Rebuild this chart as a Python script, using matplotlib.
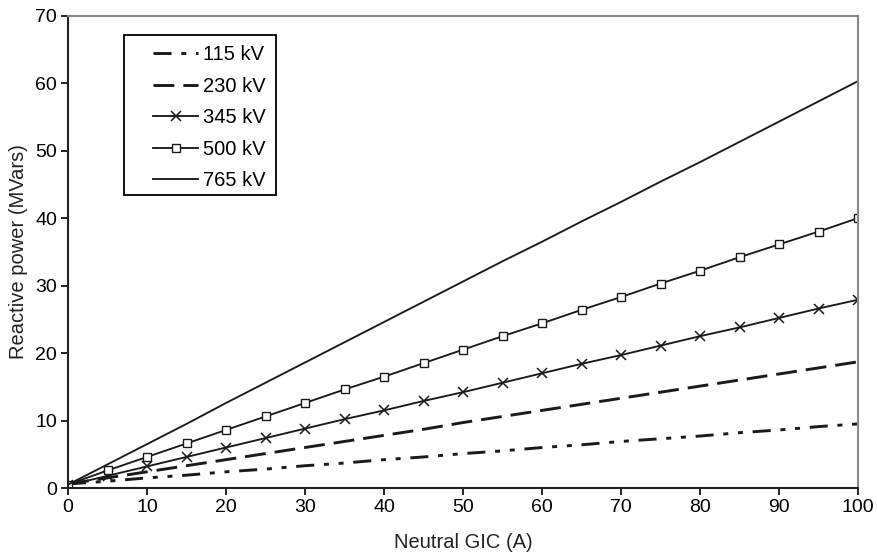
import matplotlib
matplotlib.use("Agg")
import matplotlib.pyplot as plt
from matplotlib.patches import Rectangle

plt.rcParams['font.family'] = ['Liberation Sans', 'DejaVu Sans']
plt.rcParams['lines.scale_dashes'] = False

x = [0, 5, 10, 15, 20, 25, 30, 35, 40, 45, 50, 55, 60, 65, 70, 75, 80, 85, 90, 95, 100]
kv115 = [0.6, 1.0, 1.5, 1.9, 2.4, 2.8, 3.3, 3.7, 4.2, 4.6, 5.1, 5.5, 6.0, 6.4, 6.9, 7.3, 7.7, 8.2, 8.6, 9.1, 9.5]
kv230 = [0.6, 1.5, 2.4, 3.3, 4.2, 5.1, 6.0, 6.9, 7.8, 8.7, 9.7, 10.6, 11.5, 12.4, 13.3, 14.2, 15.1, 16.0, 16.9, 17.8, 18.7]
kv345 = [0.4, 1.8, 3.2, 4.6, 6.0, 7.4, 8.8, 10.2, 11.5, 12.9, 14.2, 15.6, 17.0, 18.4, 19.7, 21.1, 22.5, 23.8, 25.2, 26.6, 27.9]
kv500 = [0.5, 2.6, 4.6, 6.6, 8.6, 10.6, 12.6, 14.6, 16.5, 18.5, 20.5, 22.5, 24.4, 26.4, 28.3, 30.3, 32.2, 34.2, 36.1, 38.0, 40.0]
kv765 = [0.5, 3.5, 6.5, 9.5, 12.6, 15.6, 18.6, 21.6, 24.6, 27.6, 30.6, 33.6, 36.5, 39.5, 42.4, 45.4, 48.3, 51.3, 54.3, 57.3, 60.3]
labels = ['115 kV', '230 kV', '345 kV', '500 kV', '765 kV']

fig = plt.figure(figsize=(8.78, 5.56), dpi=100)
ax = fig.add_axes([0.07745, 0.1223, 0.8998, 0.8495])

c = '#1a1a1a'
ax.plot(x, kv115, color=c, lw=2.1, dashes=(13, 7, 3.6, 7, 3.6, 7), label=labels[0])
ax.plot(x, kv230, color=c, lw=2.1, dashes=(15, 6.5), label=labels[1])
ax.plot(x, kv345, color=c, lw=1.35, marker='x', ms=7, mew=1.1, label=labels[2])
ax.plot(x, kv500, color=c, lw=1.35, marker='s', ms=6, mfc='white', mec=c, mew=1.0, label=labels[3])
ax.plot(x, kv765, color=c, lw=1.35, label=labels[4])

ax.set_xlim(0, 100)
ax.set_ylim(0, 70)
ax.set_xticks(range(0, 101, 10))
ax.set_yticks(range(0, 71, 10))
ax.tick_params(direction='out', length=5, width=1.2, labelsize=14, colors='black', pad=3)
ax.set_xlabel('Neutral GIC (A)', fontsize=14.5, labelpad=12, color='#222222')
ax.set_ylabel('Reactive power (MVars)', fontsize=14.5, labelpad=5, color='#222222')

for s in ['left', 'bottom']:
    ax.spines[s].set_color('#222222')
    ax.spines[s].set_linewidth(1.5)
for s in ['top', 'right']:
    ax.spines[s].set_color('#888888')
    ax.spines[s].set_linewidth(1.5)

ax.add_patch(Rectangle((0.0709, 0.620), 0.2633 - 0.0709, 0.959 - 0.620,
                       transform=ax.transAxes, fill=True, facecolor='white',
                       edgecolor='black', lw=1.3, zorder=5, clip_on=False))
leg = ax.legend(loc='upper left', bbox_to_anchor=(0.1076, 0.937), fontsize=14.5,
                handlelength=2.25, handletextpad=0.25, borderpad=0, labelspacing=0.62,
                frameon=False, borderaxespad=0)
leg.set_zorder(6)

fig.savefig('out.png', dpi=100)
